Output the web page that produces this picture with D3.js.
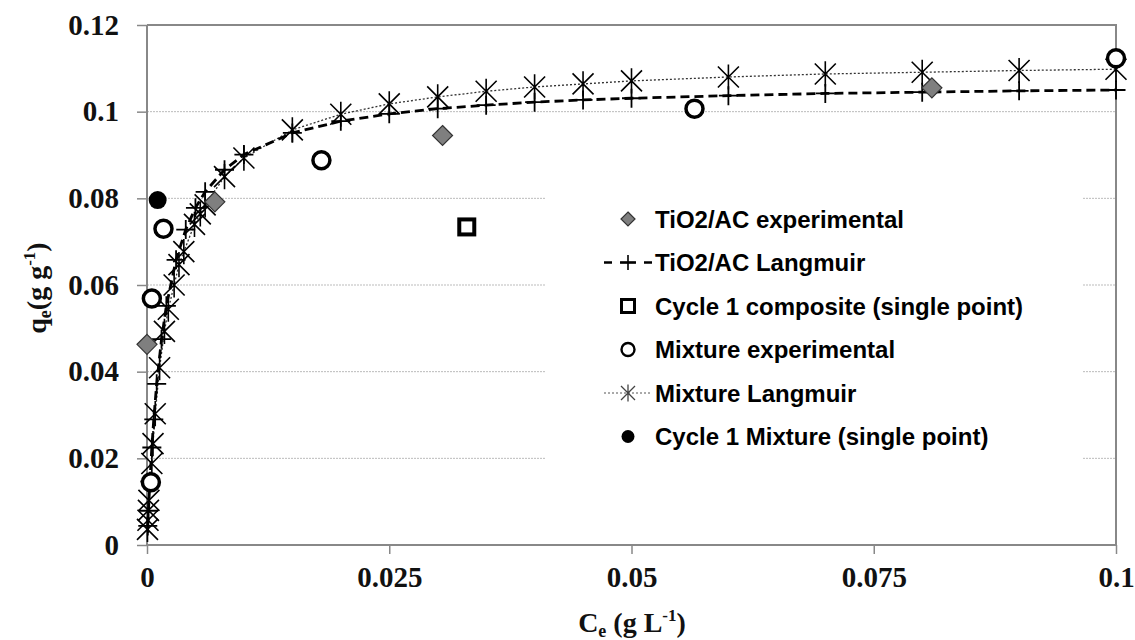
<!DOCTYPE html>
<html><head><meta charset="utf-8">
<script src="https://cdn.jsdelivr.net/npm/d3@7"></script>
<style>body{margin:0;background:#fff}svg{display:block}</style>
</head><body>
<svg id="c" width="1135" height="640"></svg>
<script>
// ---- data ----
const xTicks = [0, 0.025, 0.05, 0.075, 0.1];
const xTickLabels = ["0", "0.025", "0.05", "0.075", "0.1"];
const yTicks = [0, 0.02, 0.04, 0.06, 0.08, 0.1, 0.12];
const yTickLabels = ["0", "0.02", "0.04", "0.06", "0.08", "0.1", "0.12"];

const tioExpC = [0, 0.007, 0.0305, 0.081];
const tioExpQ = [0.0463, 0.0792, 0.0945, 0.1055];

const tioLangC = [0.00008, 0.00015, 0.0003, 0.0005, 0.0007, 0.001, 0.0015, 0.002, 0.003, 0.004, 0.005, 0.006, 0.008, 0.01, 0.015, 0.02, 0.025, 0.03, 0.035, 0.04, 0.045, 0.05, 0.06, 0.07, 0.08, 0.09, 0.1];
const tioLangQ = [0.0044, 0.0079, 0.0147, 0.0225, 0.0290, 0.0372, 0.0475, 0.0552, 0.0658, 0.0728, 0.0778, 0.0815, 0.0866, 0.0901, 0.0951, 0.0978, 0.0995, 0.1007, 0.1015, 0.1022, 0.1027, 0.1031, 0.1037, 0.1042, 0.1045, 0.1048, 0.1050];

const compC = [0.033];
const compQ = [0.0734];

const mixExpC = [0.0004, 0.0005, 0.0017, 0.018, 0.0565, 0.1];
const mixExpQ = [0.0145, 0.0569, 0.0730, 0.0888, 0.1007, 0.1123];

const mixLangC = [0.00005, 0.0001, 0.00015, 0.0002, 0.0005, 0.00062, 0.00085, 0.0013, 0.0018, 0.0022, 0.0028, 0.0033, 0.0038, 0.0049, 0.0055, 0.006, 0.008, 0.01, 0.015, 0.02, 0.025, 0.03, 0.035, 0.04, 0.045, 0.05, 0.06, 0.07, 0.08, 0.09, 0.1];
const mixLangQ = [0.0036, 0.0057, 0.0080, 0.0103, 0.0188, 0.0234, 0.0303, 0.0409, 0.0493, 0.0544, 0.0600, 0.0647, 0.0677, 0.0740, 0.0764, 0.0785, 0.0850, 0.0893, 0.0958, 0.0994, 0.1018, 0.1034, 0.1047, 0.1057, 0.1064, 0.1071, 0.1080, 0.1087, 0.1091, 0.1095, 0.1098];

const cyc1MixC = [0.0011];
const cyc1MixQ = [0.0796];

const legendLabels = ["TiO2/AC experimental", "TiO2/AC Langmuir", "Cycle 1 composite (single point)", "Mixture experimental", "Mixture Langmuir", "Cycle 1 Mixture (single point)"];

// ---- layout ----
const svg = d3.select("#c");
const L = 147, R = 1116, T = 25, B = 545;
const x = d3.scaleLinear().domain([0, 0.1]).range([L, R]);
const y = d3.scaleLinear().domain([0, 0.12]).range([B, T]);
const zip = (a, b) => a.map((v, i) => [v, b[i]]);

// gridlines
svg.append("g").selectAll("line").data(yTicks.filter(d => d > 0 && d < 0.12)).join("line")
  .attr("x1", L).attr("x2", R).attr("y1", d => y(d)).attr("y2", d => y(d))
  .attr("stroke", "#bbb").attr("stroke-width", 1).attr("stroke-dasharray", "2,1");

// frame top/right
svg.append("path").attr("d", `M${L},${T}H${R}V${B}`).attr("fill", "none").attr("stroke", "#888").attr("stroke-width", 2);

// axes
const yAxis = d3.axisLeft(y).tickValues(yTicks).tickFormat((d, i) => yTickLabels[i]).tickSize(10).tickPadding(18);
const gy = svg.append("g").attr("transform", `translate(${L},0)`).call(yAxis);
const xAxis = d3.axisBottom(x).tickValues(xTicks).tickFormat((d, i) => xTickLabels[i]).tickSize(9).tickPadding(12);
const gx = svg.append("g").attr("transform", `translate(0,${B})`).call(xAxis);
[gx, gy].forEach(g => {
  g.select(".domain").attr("stroke", "#888").attr("stroke-width", 2);
  g.selectAll(".tick line").attr("stroke", "#888").attr("stroke-width", 1.5);
  g.selectAll("text").attr("font-family", "'Liberation Serif', 'Times New Roman', serif")
    .attr("font-weight", "bold").attr("font-size", 29).attr("fill", "#111");
});
gy.select(".domain").attr("d", `M0,${B}V${T}`);
gx.select(".domain").attr("d", `M${L},0H${R}`);

// axis titles
const tf = "'Liberation Serif', 'Times New Roman', serif";
const xt = svg.append("text").attr("x", 632).attr("y", 632).attr("text-anchor", "middle")
  .attr("font-family", tf).attr("font-weight", "bold").attr("font-size", 28).attr("fill", "#111");
xt.append("tspan").text("C");
xt.append("tspan").text("e").attr("font-size", 18).attr("dy", 5);
xt.append("tspan").text(" (g L").attr("dy", -5);
xt.append("tspan").text("-1").attr("font-size", 17).attr("dy", -11);
xt.append("tspan").text(")").attr("dy", 11);

const yt = svg.append("text").attr("transform", "translate(46,288) rotate(-90)").attr("text-anchor", "middle")
  .attr("font-family", tf).attr("font-weight", "bold").attr("font-size", 28).attr("fill", "#111");
yt.append("tspan").text("q");
yt.append("tspan").text("e").attr("font-size", 18).attr("dy", 5);
yt.append("tspan").text("(g g").attr("dy", -5);
yt.append("tspan").text("-1").attr("font-size", 17).attr("dy", -11);
yt.append("tspan").text(")").attr("dy", 11);

// legend background (covers grid)
svg.append("rect").attr("x", 545).attr("y", 150).attr("width", 538).attr("height", 345).attr("fill", "#fff");

// marker helpers
function star(g, s, col, w) {
  g.append("path").attr("d", `M${-s},${-s}L${s},${s}M${-s},${s}L${s},${-s}M0,${-s * 1.2}V${s * 1.2}`)
    .attr("stroke", col).attr("stroke-width", w).attr("fill", "none");
}
function plus(g, s, col, w) {
  g.append("path").attr("d", `M${-s},0H${s}M0,${-s}V${s}`).attr("stroke", col).attr("stroke-width", w);
}
function diamond(g, s) {
  g.append("path").attr("d", `M0,${-s}L${s},0L0,${s}L${-s},0Z`).attr("fill", "#7f7f7f").attr("stroke", "#333").attr("stroke-width", 1.2);
}

const line = d3.line().x(d => x(d[0])).y(d => y(d[1]));

// Mixture Langmuir dotted line
svg.append("path").datum(zip(mixLangC, mixLangQ)).attr("d", line)
  .attr("fill", "none").attr("stroke", "#333").attr("stroke-width", 1.3).attr("stroke-dasharray", "2,2");
// TiO2/AC Langmuir dashed line
svg.append("path").datum(zip(tioLangC, tioLangQ)).attr("d", line)
  .attr("fill", "none").attr("stroke", "#000").attr("stroke-width", 2.8).attr("stroke-dasharray", "9,5");

svg.append("g").selectAll("g").data(zip(tioLangC, tioLangQ)).join("g")
  .attr("transform", d => `translate(${x(d[0])},${y(d[1])})`).each(function () { plus(d3.select(this), 9.5, "#000", 1.8); });
svg.append("g").selectAll("g").data(zip(mixLangC, mixLangQ)).join("g")
  .attr("transform", d => `translate(${x(d[0])},${y(d[1])})`).each(function () { star(d3.select(this), 10.5, "#000", 1.6); });

// TiO2/AC experimental diamonds
svg.append("g").selectAll("g").data(zip(tioExpC, tioExpQ)).join("g")
  .attr("transform", d => `translate(${x(d[0])},${y(d[1])})`).each(function () { diamond(d3.select(this), 10); });

// composite square
svg.append("g").selectAll("rect").data(zip(compC, compQ)).join("rect")
  .attr("x", d => x(d[0]) - 7.5).attr("y", d => y(d[1]) - 7.5).attr("width", 15).attr("height", 15)
  .attr("fill", "#fff").attr("stroke", "#000").attr("stroke-width", 4);

// mixture experimental open circles
svg.append("g").selectAll("circle").data(zip(mixExpC, mixExpQ)).join("circle")
  .attr("cx", d => x(d[0])).attr("cy", d => y(d[1])).attr("r", 8.5)
  .attr("fill", "#fff").attr("stroke", "#000").attr("stroke-width", 3.5);

// cycle1 mixture filled circle
svg.append("g").selectAll("circle").data(zip(cyc1MixC, cyc1MixQ)).join("circle")
  .attr("cx", d => x(d[0])).attr("cy", d => y(d[1])).attr("r", 9).attr("fill", "#000");

// legend
const ly0 = 219, ldy = 43.5, lx = 628, ltx = 655;
const lg = svg.append("g");
legendLabels.forEach((lab, i) => {
  const yy = ly0 + i * ldy;
  const g = lg.append("g").attr("transform", `translate(${lx},${yy})`);
  if (i === 0) diamond(g, 7);
  if (i === 1) {
    g.append("path").attr("d", "M-24,0H-16M-8,0H8M16,0H24").attr("stroke", "#000").attr("stroke-width", 2.5);
    plus(g, 7.5, "#000", 1.6);
  }
  if (i === 2) g.append("rect").attr("x", -6.5).attr("y", -6.5).attr("width", 13).attr("height", 13).attr("fill", "#fff").attr("stroke", "#000").attr("stroke-width", 3);
  if (i === 3) g.append("circle").attr("r", 6.5).attr("fill", "#fff").attr("stroke", "#000").attr("stroke-width", 2.4);
  if (i === 4) {
    g.append("path").attr("d", "M-24,0H24").attr("stroke", "#555").attr("stroke-width", 1).attr("stroke-dasharray", "2,2");
    star(g, 7, "#444", 1.3);
  }
  if (i === 5) g.append("circle").attr("r", 6.5).attr("fill", "#000");
  lg.append("text").attr("x", ltx).attr("y", yy).attr("dy", "0.36em").text(lab)
    .attr("font-family", "'Liberation Sans', Arial, sans-serif").attr("font-weight", "bold")
    .attr("font-size", 24).attr("fill", "#000");
});
</script>
</body></html>
